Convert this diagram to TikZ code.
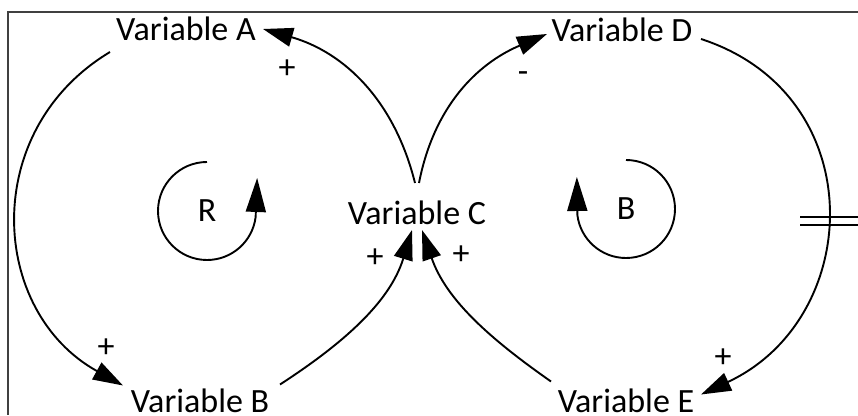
\documentclass[tikz,border=0pt]{standalone}
\usepackage{fontspec}
\setmainfont{Carlito}
\usetikzlibrary{arrows.meta}
\begin{document}
\begin{tikzpicture}[x=1pt,y=1pt,
  var/.style={inner sep=0pt, anchor=base, font=\fontsize{34}{40}\selectfont},
  sgn/.style={inner sep=0pt, font=\fontsize{34}{40}\selectfont},
  link/.style={line width=1.9pt, -{Triangle[length=30pt,width=19pt]}},
  loopline/.style={line width=1.9pt, -{Triangle[length=34pt,width=20pt]}},
  frameline/.style={line width=1.8pt, black!75},
  delayline/.style={line width=2.2pt},
]
\useasboundingbox (0,0) rectangle (858,415);
\draw[frameline] (858,403.3) -- (8.3,403.3) -- (8.3,0);

\node[var] (A) at (186,374) {Variable A};
\node[var] (B) at (200,2.5) {Variable B};
\node[var] (C) at (417,190) {Variable C};
\node[var] (D) at (622,373) {Variable D};
\node[var] (E) at (626,2.5) {Variable E};
\node[sgn] (R) at (207,204) {R};
\node[sgn] (Bal) at (626,206) {B};

% connectors
\draw[link] ([shift={(-76,-11)}]A.base) to[out=211,in=151,looseness=1.17] ([shift={(-77,27)}]B.base);
\draw[link] ([shift={(80,28)}]B.base) to[out=33,in=253,looseness=0.95] ([shift={(-5,-5)}]C.base);
\draw[link] ([shift={(-2,42)}]C.base) to[out=104,in=344,looseness=1] ([shift={(77,12)}]A.base);
\draw[link] ([shift={(2,42)}]C.base) to[out=79,in=203,looseness=1] ([shift={(-75,8)}]D.base);
\draw[link] ([shift={(79,3)}]D.base) to[out=-18,in=25,looseness=1.3] ([shift={(75,18)}]E.base);
\draw[link] ([shift={(-75,31)}]E.base) to[out=145,in=289,looseness=0.95] ([shift={(5,-5)}]C.base);

% delay mark
\draw[delayline] (800,198) -- (858,198);
\draw[delayline] (800,190) -- (858,190);

% polarity signs
\node[sgn] (s1) at (287,346) {+};
\node[sgn] (s2) at (106,67) {+};
\node[sgn] (s3) at (375,157) {+};
\node[sgn] (s4) at (461,160) {+};
\node[sgn] (s5) at (723,57) {+};
\node[sgn] (s6) at (523,338) {-};

% loop symbols
\draw[loopline] ([shift={(90:49)}]R.center) arc[start angle=90, end angle=353, radius=49] -- ++(1.5,39);
\draw[loopline] ([shift={(90:49)}]Bal.center) arc[start angle=90, end angle=-173, radius=49] -- ++(-0.5,38);
\end{tikzpicture}
\end{document}
